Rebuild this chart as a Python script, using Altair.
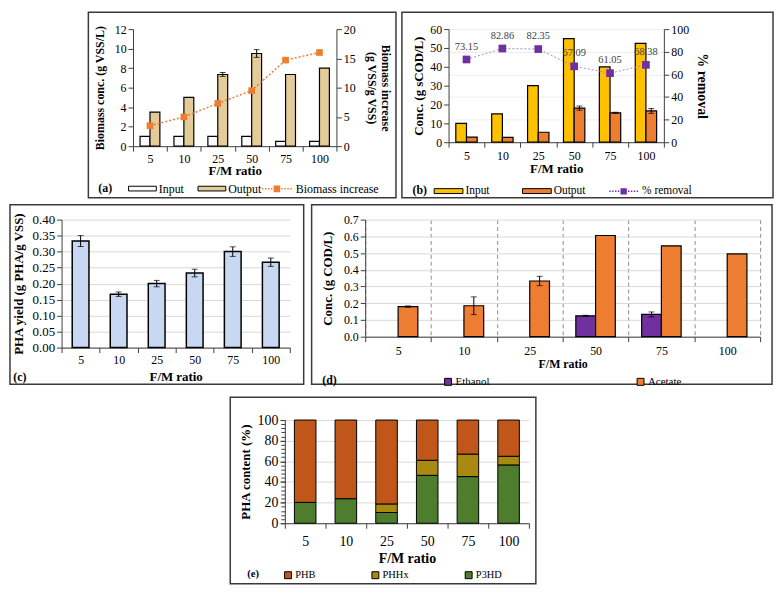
import altair as alt
import pandas as pd

FM = ["5", "10", "25", "50", "75", "100"]

# (a) biomass
A_SERIES = ["Input", "Output"]
A_INPUT = [1.0, 1.0, 1.0, 1.0, 0.5, 0.5]
A_OUTPUT = [3.5, 5.0, 7.35, 9.5, 7.35, 8.0]
A_OUTPUT_ERR = [0.0, 0.0, 0.2, 0.4, 0.0, 0.0]
A_INCREASE = [3.5, 5.0, 7.3, 9.5, 14.7, 16.0]

# (b) sCOD
B_INPUT = [10, 15, 30, 55, 40, 52.4]
B_OUTPUT = [2.7, 2.6, 5.3, 18.1, 15.6, 16.6]
B_OUTPUT_ERR = [0, 0, 0, 1.1, 0.3, 1.3]
B_REMOVAL = [73.15, 82.86, 82.35, 67.09, 61.05, 68.38]

# (c) PHA yield
C_YIELD = [0.333, 0.167, 0.200, 0.233, 0.300, 0.267]
C_ERR = [0.017, 0.007, 0.010, 0.012, 0.015, 0.013]

# (d) ethanol / acetate
D_SERIES = ["Ethanol", "Acetate"]
D_ETHANOL = [0, 0, 0, 0.125, 0.133, 0]
D_ETHANOL_ERR = [0, 0, 0, 0.003, 0.015, 0]
D_ACETATE = [0.180, 0.185, 0.333, 0.605, 0.543, 0.495]
D_ACETATE_ERR = [0.004, 0.053, 0.028, 0, 0, 0]

# (e) PHA composition
E_SERIES = ["PHB", "PHHx", "P3HD"]
E_P3HD = [20.2, 23.8, 10.4, 46.4, 45.2, 56.5]
E_PHHX = [0, 0, 8.3, 14.6, 21.8, 8.4]
E_PHB = [79.8, 76.2, 81.3, 39.0, 33.0, 35.1]
E_Y_RANGE = [0, 100]

FONT = "Liberation Serif, Times New Roman, DejaVu Serif, serif"
WIDE = "M-1,-0.17H1V0.17H-1Z"


def dotted_symbol():
    parts = []
    for x0 in [-1.0, -0.8, -0.6, -0.4]:
        parts.append(f"M{x0},-0.05h0.1v0.1h-0.1Z")
    parts.append("M-0.22,-0.22H0.22V0.22H-0.22Z")
    for x0 in [0.3, 0.5, 0.7, 0.9]:
        parts.append(f"M{x0},-0.05h0.1v0.1h-0.1Z")
    return "".join(parts)


DOT = dotted_symbol()


def frame_layer(x1, x2, y1, y2, opacity=1):
    return alt.Chart(pd.DataFrame({"k": [0]})).mark_rect(
        fill="white", fillOpacity=0, stroke="#3a3a3a", strokeWidth=1.5, strokeOpacity=opacity
    ).encode(x=alt.value(x1), x2=alt.value(x2), y=alt.value(y1), y2=alt.value(y2))


def spacer(w):
    return alt.Chart(pd.DataFrame({"k": [0]})).mark_rect(opacity=0).encode(
        x=alt.value(0), x2=alt.value(w), y=alt.value(0), y2=alt.value(1)
    ).properties(width=w, height=1)


def tag_layer(text, x, y, size=12):
    return alt.Chart(pd.DataFrame({"t": [text]})).mark_text(
        font=FONT, fontWeight="bold", fontSize=size, align="center", baseline="middle", color="black"
    ).encode(text="t:N", x=alt.value(x), y=alt.value(y))


def x_enc(axis):
    # bands fill each category step so that ticks / grid sit on the category boundaries
    return alt.X("fm:N", sort=FM, scale=alt.Scale(domain=FM, paddingInner=0, paddingOuter=0), axis=axis)


def xoff_enc(domain, pad_outer):
    return alt.XOffset("series:N", scale=alt.Scale(domain=domain, paddingInner=0, paddingOuter=pad_outer))


def err_df(series, vals, errs):
    rows = [{"fm": f, "series": series, "lo": v - e, "hi": v + e}
            for f, v, e in zip(FM, vals, errs) if e > 0]
    return pd.DataFrame(rows)


def err_layers(df, x, yscale, yaxis, xoff=None, cap=6):
    extra = {"xOffset": xoff} if xoff is not None else {}
    rule = alt.Chart(df).mark_rule(color="black", strokeWidth=1).encode(
        x=x, y=alt.Y("lo:Q", scale=yscale, axis=yaxis), y2="hi:Q", **extra)
    lo = alt.Chart(df).mark_tick(color="black", size=cap, thickness=1).encode(
        x=x, y=alt.Y("lo:Q", scale=yscale, axis=yaxis), **extra)
    hi = alt.Chart(df).mark_tick(color="black", size=cap, thickness=1).encode(
        x=x, y=alt.Y("hi:Q", scale=yscale, axis=yaxis), **extra)
    return [rule, lo, hi]


# ---------------- panel (a)
WA, HA = 205, 118
df_a = pd.DataFrame({"fm": FM * 2, "series": ["Input"] * 6 + ["Output"] * 6, "value": A_INPUT + A_OUTPUT})
df_a_err = err_df("Output", A_OUTPUT, A_OUTPUT_ERR)
df_a_inc = pd.DataFrame({"fm": FM, "series": ["Biomass increase"] * 6, "value": A_INCREASE})

ax_xa = alt.Axis(title="F/M ratio", labelAngle=0, tickBand="extent", labelFontSize=12, titleFontSize=13,
                 labelPadding=2, titlePadding=1, grid=False)
xa = x_enc(ax_xa)
ya_scale = alt.Scale(domain=[0, 12], nice=False)
ya_axis = alt.Axis(values=list(range(0, 13, 2)), title="Biomass conc. (g VSS/L)", titleFontSize=12,
                   labelFontSize=12, titlePadding=8, grid=False)
xoff_a = xoff_enc(A_SERIES, 0.71)

bars_a = alt.Chart(df_a).mark_bar(stroke="black", strokeWidth=1.2).encode(
    x=xa, xOffset=xoff_a, y=alt.Y("value:Q", scale=ya_scale, axis=ya_axis),
    fill=alt.Fill("series:N", scale=alt.Scale(domain=A_SERIES, range=["#FAFAFA", "#E3CC99"]),
                  legend=alt.Legend(title=None, orient="none", legendX=-5, legendY=HA + 28, direction="horizontal",
                                    symbolType=WIDE, symbolSize=784, symbolStrokeColor="black",
                                    symbolStrokeWidth=1, labelFontSize=12, labelOffset=2, columnPadding=11)))
left_a = alt.layer(bars_a, *err_layers(df_a_err, xa, ya_scale, ya_axis, xoff_a))

ya2_scale = alt.Scale(domain=[0, 20], nice=False)
ya2_axis = alt.Axis(orient="right", values=[0, 5, 10, 15, 20], title=["Biomass increase", "(g VSS/g VSS)"],
                    titleFontSize=12, labelFontSize=12, titlePadding=9, titleLineHeight=14, grid=False)
line_a = alt.Chart(df_a_inc).mark_line(color="#ED7D31", strokeDash=[2, 2], strokeWidth=1.5).encode(
    x=xa, y=alt.Y("value:Q", scale=ya2_scale, axis=ya2_axis))
pts_a = alt.Chart(df_a_inc).mark_square(size=45, opacity=1).encode(
    x=xa, y=alt.Y("value:Q", scale=ya2_scale, axis=ya2_axis),
    color=alt.Color("series:N", scale=alt.Scale(domain=["Biomass increase"], range=["#ED7D31"]),
                    legend=alt.Legend(title=None, orient="none", legendX=129, legendY=HA + 27,
                                      symbolType=DOT, symbolSize=900, labelFontSize=12, labelOffset=3)))
right_a = alt.layer(line_a, pts_a)

panel_a = alt.layer(
    frame_layer(-45, WA + 60, -17, HA + 52),
    left_a, right_a,
    tag_layer("(a)", -28, HA + 42),
).resolve_scale(y="independent").properties(width=WA, height=HA)

# ---------------- panel (b)
WB, HB = 217, 114
df_b = pd.DataFrame({"fm": FM * 2, "series": ["Input"] * 6 + ["Output"] * 6, "value": B_INPUT + B_OUTPUT})
df_b_err = err_df("Output", B_OUTPUT, B_OUTPUT_ERR)
df_b_rem = pd.DataFrame({"fm": FM, "series": ["% removal"] * 6, "value": B_REMOVAL})

ax_xb = alt.Axis(title="F/M ratio", labelAngle=0, tickBand="extent", labelFontSize=12, titleFontSize=13,
                 labelPadding=3, titlePadding=2, grid=False)
xb = x_enc(ax_xb)
yb_scale = alt.Scale(domain=[0, 60], nice=False)
yb_axis = alt.Axis(values=list(range(0, 61, 10)), title="Conc. (g sCOD/L)", titleFontSize=13,
                   labelFontSize=12, titlePadding=4, grid=False)
xoff_b = xoff_enc(A_SERIES, 0.68)

bars_b = alt.Chart(df_b).mark_bar(stroke="black", strokeWidth=1.2).encode(
    x=xb, xOffset=xoff_b, y=alt.Y("value:Q", scale=yb_scale, axis=yb_axis),
    fill=alt.Fill("series:N", scale=alt.Scale(domain=A_SERIES, range=["#FFC000", "#ED7D31"]),
                  legend=alt.Legend(title=None, orient="none", legendX=-15, legendY=HB + 34, direction="horizontal",
                                    symbolType=WIDE, symbolSize=841, symbolStrokeColor="black",
                                    symbolStrokeWidth=1, labelFontSize=11.5, labelOffset=2, columnPadding=30)))
left_b = alt.layer(bars_b, *err_layers(df_b_err, xb, yb_scale, yb_axis, xoff_b))

yb2_scale = alt.Scale(domain=[0, 100], nice=False)
yb2_axis = alt.Axis(orient="right", values=list(range(0, 101, 20)), title="% removal", titleFontSize=14,
                    labelFontSize=12, titlePadding=6, grid=True, gridColor="#EDEDED")
line_b = alt.Chart(df_b_rem).mark_line(color="#A58BC9", strokeDash=[2, 2], strokeWidth=1).encode(
    x=xb, y=alt.Y("value:Q", scale=yb2_scale, axis=yb2_axis))
pts_b = alt.Chart(df_b_rem).mark_square(size=60, opacity=1).encode(
    x=xb, y=alt.Y("value:Q", scale=yb2_scale, axis=yb2_axis),
    color=alt.Color("series:N", scale=alt.Scale(domain=["% removal"], range=["#7030A0"]),
                    legend=alt.Legend(title=None, orient="none", legendX=161, legendY=HB + 34,
                                      symbolType=DOT, symbolSize=841, labelFontSize=11.5, labelOffset=3)))
txt_b = alt.Chart(df_b_rem).mark_text(dy=-13, fontSize=10.5, color="#404040", font=FONT).encode(
    x=xb, y=alt.Y("value:Q", scale=yb2_scale, axis=yb2_axis), text=alt.Text("value:Q", format=".2f"))
right_b = alt.layer(line_b, pts_b, txt_b)

panel_b = alt.layer(
    frame_layer(-47, WB + 110, -17, HB + 56),
    left_b, right_b,
    tag_layer("(b)", -29, HB + 48),
).resolve_scale(y="independent").properties(width=WB, height=HB)

# ---------------- panel (c)
WC, HC = 230, 129
df_c = pd.DataFrame({"fm": FM, "value": C_YIELD})
df_c_err = err_df("PHA", C_YIELD, C_ERR)
ax_xc = alt.Axis(title="F/M ratio", labelAngle=0, tickBand="extent", labelFontSize=12, titleFontSize=13,
                 labelPadding=2, titlePadding=5, grid=False)
xc = x_enc(ax_xc)
yc_scale = alt.Scale(domain=[0, 0.40], nice=False)
yc_axis = alt.Axis(values=[i * 0.05 for i in range(9)], format=".2f", title="PHA yield (g PHA/g VSS)",
                   titleFontSize=13, labelFontSize=13, titlePadding=7, grid=True, gridColor="#D9D9D9")
bars_c = alt.Chart(df_c).mark_bar(fill="#C9D8F2", stroke="black", strokeWidth=1.5,
                                   width=alt.RelativeBandSize(0.44)).encode(
    x=xc, y=alt.Y("value:Q", scale=yc_scale, axis=yc_axis))
panel_c = alt.layer(
    frame_layer(-52, WC + 14, -15, HC + 37),
    bars_c, *err_layers(df_c_err, xc, yc_scale, yc_axis),
    tag_layer("(c)", -42, HC + 30),
).properties(width=WC, height=HC)

# ---------------- panel (d)
WD, HD = 398, 118
df_d = pd.DataFrame({"fm": FM * 2, "series": ["Ethanol"] * 6 + ["Acetate"] * 6, "value": D_ETHANOL + D_ACETATE})
df_d = df_d[df_d["value"] > 0]
df_d_err = pd.concat([err_df("Ethanol", D_ETHANOL, D_ETHANOL_ERR), err_df("Acetate", D_ACETATE, D_ACETATE_ERR)])
ax_xd = alt.Axis(title="F/M ratio", labelAngle=0, tickBand="extent", labelFontSize=12, titleFontSize=12,
                 labelPadding=4, titlePadding=2, grid=True, gridDash=[4, 3], gridColor="#8C8C8C")
xd = x_enc(ax_xd)
yd_scale = alt.Scale(domain=[0, 0.7], nice=False)
yd_axis = alt.Axis(values=[i / 10 for i in range(8)], format=".1f", title="Conc. (g COD/L)",
                   titleFontSize=13, labelFontSize=12, titlePadding=9, grid=True, gridColor="#D9D9D9")
xoff_d = xoff_enc(D_SERIES, 0.667)
bars_d = alt.Chart(df_d).mark_bar(stroke="black", strokeWidth=1.2).encode(
    x=xd, xOffset=xoff_d, y=alt.Y("value:Q", scale=yd_scale, axis=yd_axis),
    fill=alt.Fill("series:N", scale=alt.Scale(domain=D_SERIES, range=["#7030A0", "#ED7D31"]),
                  legend=alt.Legend(title=None, orient="none", legendX=78, legendY=HD + 40, direction="horizontal",
                                    symbolType="square", symbolSize=49, symbolStrokeColor="black",
                                    symbolStrokeWidth=1, labelFontSize=11, labelOffset=2, columnPadding=146)))
panel_d = alt.layer(
    frame_layer(-54, WD + 12, -15, HD + 48),
    bars_d, *err_layers(df_d_err, xd, yd_scale, yd_axis, xoff_d),
    tag_layer("(d)", -36, HD + 44),
).properties(width=WD, height=HD)

# ---------------- panel (e)
WE, HE = 246, 104
rows = []
for i, f in enumerate(FM):
    rows.append({"fm": f, "series": "P3HD", "ord": 0, "value": E_P3HD[i]})
    rows.append({"fm": f, "series": "PHHx", "ord": 1, "value": E_PHHX[i]})
    rows.append({"fm": f, "series": "PHB", "ord": 2, "value": E_PHB[i]})
df_e = pd.DataFrame(rows)
df_e = df_e[df_e["value"] > 0]
ax_xe = alt.Axis(title="F/M ratio", labelAngle=0, tickBand="extent", labelFontSize=14, titleFontSize=14,
                 labelPadding=6, titlePadding=4, grid=False)
xe = x_enc(ax_xe)
ye_axis = alt.Axis(values=list(range(0, 101, 20)), title="PHA content (%)", titleFontSize=13,
                   labelFontSize=14, titlePadding=5, grid=True, gridColor="#D9D9D9")
bars_e = alt.Chart(df_e).mark_bar(stroke="black", strokeWidth=1, width=alt.RelativeBandSize(0.53)).encode(
    x=xe, y=alt.Y("value:Q", stack="zero", scale=alt.Scale(domain=E_Y_RANGE, nice=False), axis=ye_axis),
    order=alt.Order("ord:Q"),
    fill=alt.Fill("series:N", scale=alt.Scale(domain=E_SERIES, range=["#C0561A", "#A88A10", "#4E7D2E"]),
                  legend=alt.Legend(title=None, orient="none", legendX=-2, legendY=HE + 47, direction="horizontal",
                                    symbolType="square", symbolSize=49, symbolStrokeColor="black",
                                    symbolStrokeWidth=1, labelFontSize=10.5, labelOffset=2, columnPadding=54)))
# minor ticks of the (e) y axis (every 4 %)
minor_e = alt.Chart(pd.DataFrame({"v": E_Y_RANGE})).mark_point(opacity=0).encode(
    y=alt.Y("v:Q", scale=alt.Scale(domain=E_Y_RANGE, nice=False),
            axis=alt.Axis(orient="left", values=list(range(0, 101, 4)), labels=False, domain=False,
                          grid=False, tickSize=4, title=None)))
panel_e = alt.layer(
    frame_layer(-55, WE + 7, -28, -23, opacity=0),
    frame_layer(-55, WE + 7, -23, HE + 61),
    bars_e,
    minor_e,
    tag_layer("(e)", -32, HE + 51, size=10.5),
).resolve_scale(y="independent").properties(width=WE, height=HE)

RES = dict(x="independent", y="independent", fill="independent", color="independent",
           xOffset="independent")
row1 = alt.hconcat(spacer(22), panel_a, panel_b, spacing=4).resolve_scale(**RES)
row2 = alt.hconcat(panel_c, panel_d, spacing=6).resolve_scale(**RES)
row3 = alt.hconcat(spacer(169), panel_e, spacing=0).resolve_scale(**RES)

chart = alt.vconcat(row1, row2, row3, spacing=5).resolve_scale(**RES).properties(
    padding={"left": 1, "top": 1, "right": 1, "bottom": 1}
).configure_view(strokeWidth=0).configure_axis(
    labelFont=FONT, titleFont=FONT, labelColor="black", titleColor="black",
    domainColor="#404040", tickColor="#404040", titleFontWeight="bold"
).configure_legend(labelFont=FONT, labelColor="black", padding=0).configure_text(font=FONT)

chart.save("out.html", embed_options={"renderer": "svg", "actions": False})
